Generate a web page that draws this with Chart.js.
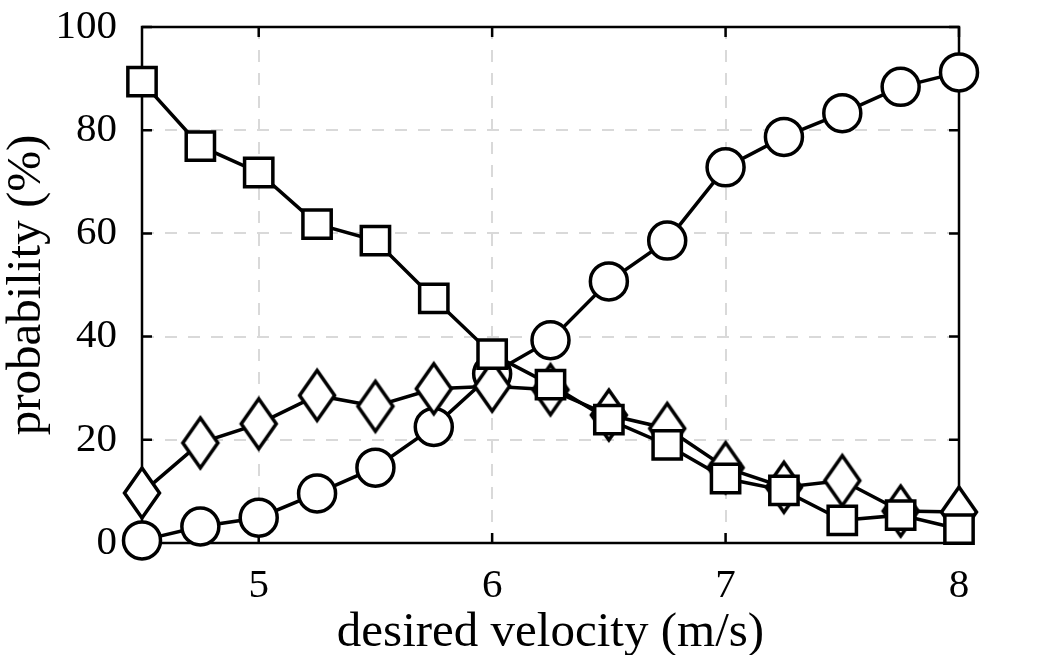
<!DOCTYPE html>
<html>
<head>
<meta charset="utf-8">
<script src="https://cdn.jsdelivr.net/npm/chart.js@4.4.1/dist/chart.umd.min.js"></script>
<style>
  body { margin: 0; background: #fff; }
  #wrap { width: 1055px; height: 655px; }
</style>
</head>
<body>
<div id="wrap"><canvas id="graphique" width="1055" height="655"></canvas></div>
<script>
// desired velocity (m/s)
var vitesses = [4.5, 4.75, 5, 5.25, 5.5, 5.75, 6, 6.25, 6.5, 6.75, 7, 7.25, 7.5, 7.75, 8];
// probability (%) per marker
var carres = [89.4, 76.9, 71.8, 61.8, 58.6, 47.4, 36.6, 30.7, 23.9, 19.0, 12.5, 10.2, 4.4, 5.4, 2.7];
var losanges = [9.7, 19.4, 23.1, 28.6, 26.5, 29.9, 30.4, 29.7, 24.8, 22.2, 14.6, 10.8, 12.1, 6.2, 6.0];
var cercles = [0.5, 3.2, 4.9, 9.6, 14.6, 22.5, 32.8, 39.3, 50.7, 58.6, 72.8, 78.7, 83.3, 88.4, 91.2];
var ticksX = [5, 6, 7, 8];
var ticksY = [0, 20, 40, 60, 80, 100];

function points(vals) {
    return vals.map(function(v, i) { return {x: vitesses[i], y: v}; });
}

// losange allongé (le rectRot de Chart.js est carré)
function losange() {
    var c = document.createElement('canvas');
    c.width = 46; c.height = 60;
    var g = c.getContext('2d');
    g.beginPath();
    g.moveTo(23, 5); g.lineTo(40.5, 30); g.lineTo(23, 55); g.lineTo(5.5, 30); g.closePath();
    g.fillStyle = '#fff'; g.fill();
    g.lineWidth = 3.5; g.lineJoin = 'miter'; g.strokeStyle = '#000'; g.stroke();
    return c;
}

var cadre = { // boite + ticks vers l'intérieur
    id: 'cadre',
    beforeDatasetsDraw: function(chart) {
        var ctx = chart.ctx, a = chart.chartArea;
        var sx = chart.scales.x, sy = chart.scales.y;
        ctx.save();
        ctx.strokeStyle = '#000';
        ctx.lineWidth = 2.5;
        ctx.beginPath();
        ticksX.forEach(function(v) {
            var px = sx.getPixelForValue(v);
            ctx.moveTo(px, a.bottom); ctx.lineTo(px, a.bottom - 10);
            ctx.moveTo(px, a.top); ctx.lineTo(px, a.top + 10);
        });
        ticksY.forEach(function(v) {
            var py = sy.getPixelForValue(v);
            ctx.moveTo(a.left, py); ctx.lineTo(a.left + 10, py);
            ctx.moveTo(a.right, py); ctx.lineTo(a.right - 10, py);
        });
        ctx.stroke();
        ctx.strokeRect(a.left, a.top, a.right - a.left, a.bottom - a.top);
        ctx.restore();
    }
};

Chart.defaults.font.family = '"Liberation Serif", serif';
Chart.defaults.color = '#000';

var base = {
    borderColor: '#000',
    borderWidth: 3.5,
    pointBackgroundColor: '#fff',
    pointBorderColor: '#000',
    pointBorderWidth: 3.5,
    pointHoverRadius: 0,
    clip: false,
    tension: 0
};

var ctx = document.getElementById('graphique').getContext('2d');
var graphique = new Chart(ctx, {
    type: 'line',
    data: {
        datasets: [
            Object.assign({label: 'carres', data: points(carres), pointStyle: 'rect', pointRadius: 20}, base),
            Object.assign({label: 'losanges', data: points(losanges), pointStyle: losange(), pointRadius: 20}, base),
            Object.assign({label: 'cercles', data: points(cercles), pointStyle: 'circle', pointRadius: 18.5}, base)
        ]
    },
    options: {
        responsive: false,
        animation: false,
        layout: { padding: { top: 27, right: 96, left: 0, bottom: 0 } },
        plugins: { legend: { display: false }, tooltip: { enabled: false } },
        scales: {
            x: {
                type: 'linear',
                min: 4.5,
                max: 8,
                afterBuildTicks: function(s) { s.ticks = ticksX.map(function(v) { return {value: v}; }); },
                afterFit: function(s) { s.height = 112; s.paddingLeft = 0; s.paddingRight = 0; },
                grid: { color: '#d9d9d9', lineWidth: 2, drawTicks: false },
                border: { display: false, dash: [12, 11] },
                ticks: { font: { size: 41 }, padding: 19, maxRotation: 0 },
                title: { display: true, text: 'desired velocity (m/s)', font: { size: 49, lineHeight: 0.9 }, padding: 0 }
            },
            y: {
                min: 0,
                max: 100,
                afterBuildTicks: function(s) { s.ticks = ticksY.map(function(v) { return {value: v}; }); },
                afterFit: function(s) { s.width = 142; s.paddingTop = 0; s.paddingBottom = 0; },
                grid: { color: '#d9d9d9', lineWidth: 2, drawTicks: false },
                border: { display: false, dash: [12, 11] },
                ticks: { font: { size: 41 }, padding: 25 },
                title: { display: true, text: 'probability (%)', font: { size: 49, lineHeight: 1.1 }, padding: 0 }
            }
        }
    },
    plugins: [cadre]
});
</script>
</body>
</html>
